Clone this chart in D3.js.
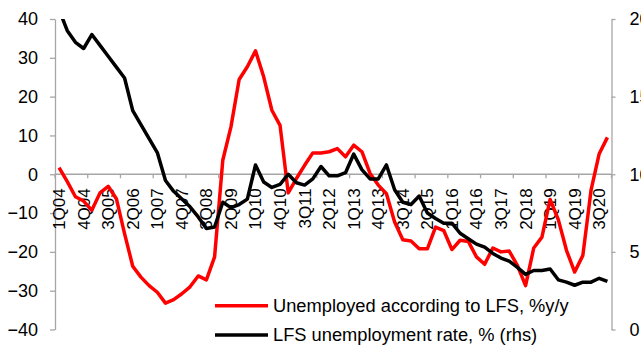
<!DOCTYPE html>
<html><head><meta charset="utf-8">
<script src="https://cdn.jsdelivr.net/npm/d3@7"></script>
<style>
html,body{margin:0;padding:0;background:#fff;}
svg{display:block;font-family:"Liberation Sans",Arial,sans-serif;}
</style></head>
<body>
<svg id="c" width="641" height="345"></svg>
<script>
const categories = [
"1Q04","2Q04","3Q04","4Q04","1Q05","2Q05","3Q05","4Q05","1Q06","2Q06","3Q06","4Q06",
"1Q07","2Q07","3Q07","4Q07","1Q08","2Q08","3Q08","4Q08","1Q09","2Q09","3Q09","4Q09",
"1Q10","2Q10","3Q10","4Q10","1Q11","2Q11","3Q11","4Q11","1Q12","2Q12","3Q12","4Q12",
"1Q13","2Q13","3Q13","4Q13","1Q14","2Q14","3Q14","4Q14","1Q15","2Q15","3Q15","4Q15",
"1Q16","2Q16","3Q16","4Q16","1Q17","2Q17","3Q17","4Q17","1Q18","2Q18","3Q18","4Q18",
"1Q19","2Q19","3Q19","4Q19","1Q20","2Q20","3Q20","4Q20"];
const unemployedYoY = [
1.7,-1.9,-5.8,-6.9,-9.3,-4.8,-3.1,-6.3,-15.3,-23.7,
-26.5,-28.7,-30.4,-33.2,-32.3,-30.8,-29.0,-26.2,-27.2,-21.3,
3.6,12.2,24.4,27.7,31.8,25.1,16.5,12.6,-4.8,-1.1,
2.3,5.5,5.5,5.8,6.6,4.5,7.5,5.8,0.2,-2.8,
-5.0,-12.3,-16.9,-17.2,-19.2,-19.2,-13.6,-14.5,-19.4,-17.0,
-17.3,-21.3,-23.2,-19.0,-20.0,-19.8,-23.5,-28.7,-19.0,-16.2,
-6.5,-11.7,-19.6,-25.2,-20.9,-4.1,5.3,9.5];
const unemploymentRate = [
20.6,19.25,18.5,18.1,19.0,18.3,17.6,16.9,16.2,14.1,
13.2,12.3,11.4,9.6,8.9,8.4,7.9,7.25,6.5,6.6,
8.2,7.85,8.05,8.4,10.6,9.5,9.15,9.35,10.0,9.45,
9.3,9.7,10.5,9.9,9.9,10.1,11.3,10.3,9.7,9.7,
10.6,9.0,8.2,8.05,8.6,7.5,7.15,6.85,6.85,6.2,
5.85,5.5,5.3,4.9,4.6,4.4,4.0,3.55,3.8,3.8,
3.9,3.2,3.05,2.85,3.05,3.05,3.3,3.1];
const leftTicks = [-40,-30,-20,-10,0,10,20,30,40];
const rightTicks = [0,5,10,15,20];
const xLabels = categories.filter((d,i)=>i%3===0);
const xTickCats = categories.filter((d,i)=>i%4===0);
const legendLabels = ["Unemployed according to LFS, %y/y","LFS unemployment rate, % (rhs)"];

const svg = d3.select("#c");
const L = 55, R = 611.5, T = 19, B = 329.5;
const axisColor = "#a6a6a6";
const x = d3.scaleBand().domain(categories).range([L, R]).padding(0);
const yL = d3.scaleLinear().domain([-40,40]).range([B,T]);
const yR = d3.scaleLinear().domain([0,20]).range([B,T]);
const cx = d => x(d) + x.bandwidth()/2;

// left axis
const gl = svg.append("g").attr("transform",`translate(${L},0)`)
  .call(d3.axisLeft(yL).tickValues(leftTicks).tickSize(5).tickPadding(12).tickSizeOuter(0));
// right axis
const gr = svg.append("g").attr("transform",`translate(${R},0)`)
  .call(d3.axisRight(yR).tickValues(rightTicks).tickSize(4).tickPadding(14).tickSizeOuter(0));
[gl,gr].forEach(g=>{
  g.select(".domain").attr("stroke",axisColor).attr("stroke-width",1.3);
  g.selectAll(".tick line").attr("stroke",axisColor).attr("stroke-width",1.3);
  g.selectAll(".tick text").attr("fill","#000").attr("font-size",18)
    .attr("font-family","'Liberation Sans',Arial,sans-serif");
});

// category axis at zero
const y0 = yL(0);
svg.append("line").attr("x1",L).attr("x2",R).attr("y1",y0).attr("y2",y0)
  .attr("stroke",axisColor).attr("stroke-width",1.3);
svg.append("g").selectAll("line").data(xTickCats).join("line")
  .attr("x1",d=>x(d)).attr("x2",d=>x(d)).attr("y1",y0).attr("y2",y0+4)
  .attr("stroke",axisColor).attr("stroke-width",1.3);
svg.append("line").attr("x1",R).attr("x2",R).attr("y1",y0).attr("y2",y0+4)
  .attr("stroke",axisColor).attr("stroke-width",1.3);
svg.append("g").selectAll("text").data(xLabels).join("text")
  .attr("transform",d=>`translate(${cx(d)},${y0+14}) rotate(-90)`)
  .attr("text-anchor","end").attr("dy","0.35em")
  .attr("font-size",17).attr("fill","#000").text(d=>d);

// clip
svg.append("clipPath").attr("id","pc").append("rect")
  .attr("x",L).attr("y",T).attr("width",R-L).attr("height",B-T);

const lineL = d3.line().x((d,i)=>cx(categories[i])).y(d=>yL(d));
const lineR = d3.line().x((d,i)=>cx(categories[i])).y(d=>yR(d));
const pg = svg.append("g").attr("clip-path","url(#pc)");
pg.append("path").attr("d",lineL(unemployedYoY)).attr("fill","none")
  .attr("stroke","#ff0000").attr("stroke-width",3.5).attr("stroke-linejoin","round");
pg.append("path").attr("d",lineR(unemploymentRate)).attr("fill","none")
  .attr("stroke","#000").attr("stroke-width",3.5).attr("stroke-linejoin","round");

// legend
const legColors = ["#ff0000","#000"];
const legY = [305.7, 335];
const lg = svg.append("g");
legendLabels.forEach((t,i)=>{
  lg.append("line").attr("x1",215).attr("x2",268).attr("y1",legY[i]).attr("y2",legY[i])
    .attr("stroke",legColors[i]).attr("stroke-width",3.5);
  lg.append("text").attr("x",273).attr("y",legY[i]).attr("dy","0.35em")
    .attr("font-size",18.3).attr("fill","#000").text(t);
});
</script>
</body></html>
